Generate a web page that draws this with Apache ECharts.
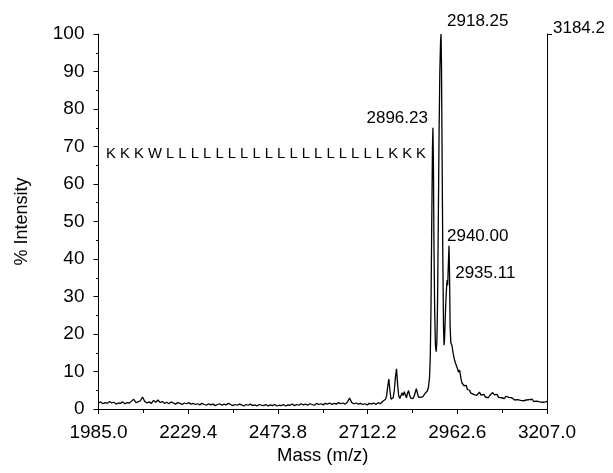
<!DOCTYPE html>
<html>
<head>
<meta charset="utf-8">
<script src="https://cdn.jsdelivr.net/npm/echarts@6/dist/echarts.min.js"></script>
<style>
html,body{margin:0;padding:0;background:#fff;}
#chart{width:613px;height:473px;}
</style>
</head>
<body>
<div id="chart"></div>
<script>
// m/z values (x) of the spectrum trace
const mass = [
1985,1991,1997,2003,2009,2015,2021,2027,2033,2039,2045,2051,2057,2063,2069,2075,2081,2087,2093,2099,
2105,2111,2117,2123,2129,2135,2141,2147,2153,2159,2165,2171,2177,2183,2189,2195,2201,2207,2213,2219,
2225,2231,2237,2243,2249,
2255,2261,2267,2273,2279,2285,2291,2297,2303,2309,2315,2321,2327,2333,2339,2345,2351,2357,2363,2369,
2375,2381,2387,2393,2399,2405,2411,2417,2423,2429,2435,2441,2447,2453,2459,2465,2471,2477,2483,2489,
2495,2501,2507,2513,2519,2525,2531,2537,2543,2549,2555,2561,2567,2573,2579,2585,2591,2597,2603,2609,2615,
2621,2627,2633,2639,2645,2651,2657,2663,2669,2675,2681,2687,2693,2699,2705,2711,2717,2723,2729,2735,
2741,2747,2753,2759,2763,2767,
2770,2773,2776,2779,2782,2785,2788,2791,2794,2797,2800,2803,2806,2809,2812,2815,2818,2821,2824,2827,
2830,2833,2836,2839,2842,2845,2848,2851,2854,2857,2860,2863,2866,2869,2872,2875,2878,2881,2884,2887,
2889,2891,2893,2895,2896.23,2897.5,2899,2901,2903,2905,2907,2909,2911,2913,2915,2917,2918.25,2919.5,2921,2923,
2925,2926.5,2928,2930,2932,2934,2935.11,2936.5,2938,2940,2941.5,2943,2945,2948,2951,2954,2957,2960,2963,2966,
2969,2972,2975,2978,2981,2984,2987,2990,2993,2996,2999,3003,3007,3011,3015,3019,3023,3027,3031,3035,
3039,3043,3047,3051,3055,3059,3063,3067,3071,3075,3079,3083,3087,3091,3095,3099,3103,3107,3111,3115,
3119,3123,3127,3131,3135,3139,3143,3147,3151,3155,3159,3163,3167,3171,3175,3179,3183,3187,3191,3195,
3199,3203,3207
];
// % intensity (y) at each m/z above
const intensity = [
1.6,1.9,1.4,1.7,1.5,2.0,1.6,1.8,1.3,1.6,1.5,1.9,1.4,1.7,1.6,2.1,2.6,1.7,1.9,2.2,
3.2,2.0,1.6,1.9,1.5,2.3,1.8,2.4,1.7,2.0,1.5,1.8,1.4,1.9,1.6,1.3,1.7,1.5,1.2,1.6,
1.4,1.7,1.3,1.5,1.2,
1.4,1.1,1.5,1.2,1.0,1.4,1.1,1.3,0.9,1.2,1.4,1.0,1.3,1.1,1.5,1.2,0.9,1.2,1.0,1.3,
1.1,0.8,1.2,1.0,1.3,0.9,1.1,0.8,1.2,1.0,0.9,1.2,0.8,1.1,0.9,1.2,0.8,1.0,0.9,1.2,
0.8,1.1,1.0,1.3,0.9,1.2,1.0,1.4,1.1,1.3,1.0,1.4,1.2,1.0,1.5,1.2,1.4,1.1,1.5,1.3,1.6,
1.2,1.5,1.3,1.7,1.4,1.6,1.3,1.8,2.9,1.7,1.4,1.6,1.3,1.5,1.2,1.4,1.1,1.5,1.3,1.6,
1.2,1.7,1.4,2.0,1.8,2.6,
3.5,6.0,8.0,5.0,2.6,2.2,3.0,5.0,8.5,10.7,6.5,3.5,2.8,3.2,4.3,3.6,4.6,3.8,3.0,4.2,
4.9,3.6,2.9,3.3,2.8,3.4,4.4,5.4,4.2,3.2,2.8,3.1,3.6,3.3,3.8,4.2,4.0,4.8,5.8,8.5,
14,28,50,70,75,66,44,26,17,15.3,18,30,52,74,90,98,100,92,70,42,
22,17,19,25,30,33.5,34.4,33,38,43.5,36,22,17.6,17,15,13.5,12.4,11.6,10.8,9.8,
10.4,8.5,7.0,7.3,6.2,5.9,6.3,5.2,4.8,5.0,4.3,4.6,3.9,4.2,3.6,3.8,4.5,3.7,3.3,3.9,
3.2,3.5,3.0,3.6,3.3,4.4,3.8,3.4,3.9,3.1,3.6,3.0,3.2,2.8,3.4,2.9,3.1,2.6,3.0,2.7,
2.4,2.9,2.5,2.8,2.3,2.6,2.2,2.7,2.4,2.1,2.5,2.2,2.6,2.0,2.4,2.1,2.3,1.9,2.2,1.8,
2.1,1.9,2.0
];
// annotated peaks
const peakLabels = ['2918.25','2896.23','2940.00','2935.11'];
const peakMass = [2918.25, 2896.23, 2940, 2935.11];
const peakIntensity = [100, 75, 43.5, 34.4];
// axis tick labels
const xTickLabels = ['1985.0','2229.4','2473.8','2712.2','2962.6','3207.0'];
const yTickLabels = ['0','10','20','30','40','50','60','70','80','90','100'];
const maxCounts = '3184.2';
const peptide = 'K K K W L L L L L L L L L L L L L L L L L L K K K';

const FONT = '"Liberation Sans", Arial, Helvetica, sans-serif';
const chart = echarts.init(document.getElementById('chart'), null, {renderer:'canvas'});

const labelPos = [
  {position:[6,-13], align:'left'},
  {position:[-5,-9], align:'right'},
  {position:[-2,-10], align:'left'},
  {position:[8,-6.5], align:'left'}
];

chart.setOption({
  backgroundColor:'#fff',
  animation:false,
  grid:{left:98.5, right:66, top:34, bottom:64, containLabel:false},
  xAxis:{
    type:'value', min:1985, max:3207, interval:244.4,
    name:'Mass (m/z)', nameLocation:'middle', nameGap:37,
    nameTextStyle:{fontFamily:FONT, fontSize:18.5, color:'#000'},
    axisLine:{show:true, onZero:false, lineStyle:{color:'#000', width:1}},
    axisTick:{show:true, length:5, lineStyle:{color:'#000'}},
    minorTick:{show:true, splitNumber:2, length:4, lineStyle:{color:'#000'}},
    splitLine:{show:false},
    axisLabel:{
      fontFamily:FONT, fontSize:19, color:'#000', margin:14,
      formatter:function(v){ return xTickLabels[Math.round((v-1985)/244.4)] || ''; }
    }
  },
  yAxis:[{
    type:'value', min:0, max:100, interval:10, position:'left',
    name:'% Intensity', nameLocation:'middle', nameGap:67,
    nameTextStyle:{fontFamily:FONT, fontSize:18, color:'#000'},
    axisLine:{show:true, lineStyle:{color:'#000', width:1}},
    axisTick:{show:true, length:5, lineStyle:{color:'#000'}},
    minorTick:{show:true, splitNumber:2, length:2.5, lineStyle:{color:'#000'}},
    splitLine:{show:false},
    axisLabel:{fontFamily:FONT, fontSize:19, color:'#000', margin:14,
      formatter:function(v){ return yTickLabels[Math.round(v/10)]; }}
  },{
    type:'value', min:0, max:100, position:'right',
    axisLine:{show:true, lineStyle:{color:'#000', width:1}},
    axisTick:{show:true, length:5, customValues:[100], lineStyle:{color:'#000'}},
    splitLine:{show:false},
    axisLabel:{show:true, customValues:[100], fontFamily:FONT, fontSize:17, color:'#000', margin:6,
      verticalAlign:'bottom', padding:[0,0,-3,0], formatter:function(){ return maxCounts; }}
  }],
  graphic:[{
    type:'text', left:106, top:146,
    style:{text:peptide, font:'14.8px ' + FONT, fill:'#000'}
  }],
  series:[{
    type:'line', xAxisIndex:0, yAxisIndex:0,
    data: mass.map(function(m,i){ return [m, intensity[i]]; }),
    showSymbol:false, symbol:'none',
    lineStyle:{color:'#000', width:1.3},
    silent:true
  },{
    type:'scatter', xAxisIndex:0, yAxisIndex:0,
    symbolSize:0,
    itemStyle:{opacity:1, color:'#000'},
    label:{show:true, color:'#000', fontFamily:FONT, fontSize:17},
    data: peakMass.map(function(m,i){
      return {value:[m, peakIntensity[i]],
        label:{show:true, formatter:peakLabels[i], position:labelPos[i].position,
          align:labelPos[i].align, verticalAlign:'middle',
          fontFamily:FONT, fontSize:17, color:'#000'}};
    }),
    silent:true
  }]
});
</script>
</body>
</html>
